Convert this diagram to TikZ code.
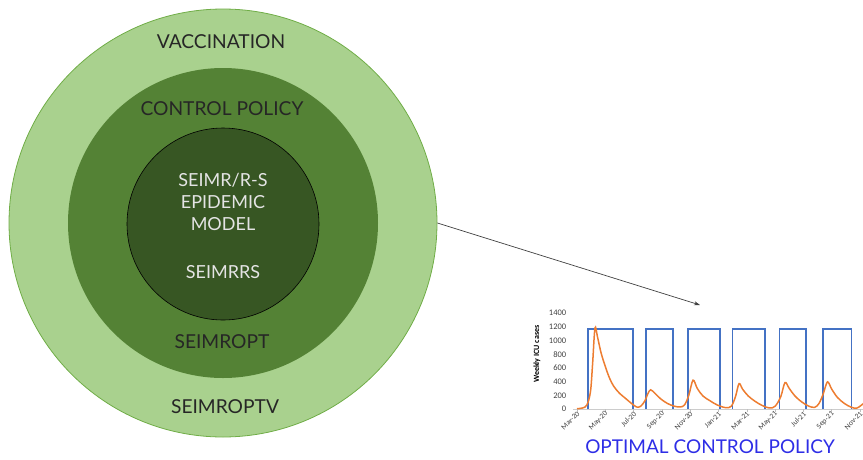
\documentclass[tikz,border=0pt]{standalone}
\usepackage{fontspec}
\setmainfont{Lato}
\newfontfamily\chartfont{Carlito}
\usepackage{xcolor}
\usepackage{tikz}
\usetikzlibrary{arrows.meta, positioning}
\definecolor{C_VAC} {HTML}{A9D18E}
\definecolor{C_VACL}{HTML}{70AD47}
\definecolor{C_CTL} {HTML}{548235}
\definecolor{C_MOD} {HTML}{375623}
\definecolor{C_TXT} {HTML}{262626}
\definecolor{C_MTX} {HTML}{E4E4E4}
\definecolor{C_PUL} {HTML}{4472C4}
\definecolor{C_ICU} {HTML}{ED7D31}
\definecolor{C_OPT} {HTML}{2E2EE6}
\tikzset{
  %% -- nested rings --
  RING/vac/.style={circle, draw=C_VACL, line width=0.8pt, fill=C_VAC,
    minimum size=428pt, inner sep=0pt},
  RING/ctl/.style={circle, fill=C_CTL, minimum size=310pt, inner sep=0pt},
  RING/mod/.style={circle, draw=black, line width=0.6pt, fill=C_MOD,
    minimum size=192pt, inner sep=0pt},
  %% -- ring labels --
  RING/lbl/.style={font=\fontsize{19.2}{23}\selectfont, color=C_TXT,
    inner sep=0pt},
  RING/mlbl/.style={font=\fontsize{18}{22}\selectfont, color=C_MTX,
    inner sep=0pt, align=center},
  %% -- pointer to the chart --
  ARR/ptr/.style={-{Stealth[length=6pt, width=4pt]}, line width=0.7pt,
    color=black!75},
  %% -- chart pieces --
  CH/axis/.style={draw=gray!40, line width=0.6pt},
  CH/tick/.style={draw=gray!50, line width=0.5pt},
  CH/ylbl/.style={font=\chartfont\fontsize{8.5}{9}\selectfont,
    color=black!75, inner sep=0pt, anchor=east},
  CH/xlbl/.style={font=\chartfont\fontsize{7.5}{8}\selectfont,
    color=black!75, inner sep=0pt, anchor=east, rotate=45},
  CH/ctrl/.style={draw=C_PUL, line width=1.5pt},
  CH/icu/.style={draw=C_ICU, line width=1.5pt, smooth, tension=0.55},
  CH/ttl/.style={font=\fontsize{19}{23}\selectfont, color=C_OPT,
    inner sep=0pt},
}

\begin{document}
\begin{tikzpicture}[x=1pt, y=-1pt]
\useasboundingbox (0,0) rectangle (863,459);

%% ━━━━━━━━━━━━━━━━━━━━━━━━━━━━━━━━━━━━━━━━━━━━━━━━━━━━━━━━━━━━━━━
%%  LEFT — nested model rings
%% ━━━━━━━━━━━━━━━━━━━━━━━━━━━━━━━━━━━━━━━━━━━━━━━━━━━━━━━━━━━━━━━
\pgfmathsetmacro{\cx}{223}  %% ring centre x
\pgfmathsetmacro{\cy}{223}  %% ring centre y

\node[RING/vac] (vac) at (\cx,\cy) {};
\node[RING/ctl] (ctl) at (\cx,\cy) {};
\node[RING/mod] (mod) at (\cx,\cy+1) {};

%% Ring titles (top) and model names (bottom)
\node[RING/lbl] (vacT) at (221,42)  {VACCINATION};
\node[RING/lbl] (ctlT) at (222,109) {CONTROL POLICY};
\node[RING/mlbl] (modT) at (223,202)
  {SEIMR/R-S\\[0pt]EPIDEMIC\\[0pt]MODEL};
\node[RING/mlbl] (modN) at (223,272) {SEIMRRS};
\node[RING/lbl] (ctlN) at (222,342) {SEIMROPT};
\node[RING/lbl] (vacN) at (225,407) {SEIMROPTV};

%% ━━━━━━━━━━━━━━━━━━━━━━━━━━━━━━━━━━━━━━━━━━━━━━━━━━━━━━━━━━━━━━━
%%  POINTER
%% ━━━━━━━━━━━━━━━━━━━━━━━━━━━━━━━━━━━━━━━━━━━━━━━━━━━━━━━━━━━━━━━
\coordinate (chartin) at (700,305);
\draw[ARR/ptr] (vac.east) -- (chartin);

%% ━━━━━━━━━━━━━━━━━━━━━━━━━━━━━━━━━━━━━━━━━━━━━━━━━━━━━━━━━━━━━━━
%%  RIGHT — weekly ICU cases under the optimal policy
%% ━━━━━━━━━━━━━━━━━━━━━━━━━━━━━━━━━━━━━━━━━━━━━━━━━━━━━━━━━━━━━━━
\begin{scope}[xshift=577pt, yshift=-409pt, x=14.15pt, y=0.06857pt]

%% Axis, y ticks
\draw[CH/axis] (-0.3,0) -- (20.6,0);
\foreach \v in {0,200,...,1400}
  \node[CH/ylbl] (yt\v) at (-0.75,\v) {\v};
\node[font=\chartfont\bfseries\fontsize{8}{9}\selectfont, rotate=90,
      inner sep=0pt] (ytitle) at (-2.83,800) {Weekly ICU cases};

%% x ticks (every two months)
\foreach \m/\lbl in {0/Mar-20, 2/May-20, 4/Jul-20, 6/Sep-20, 8/Nov-20,
    10/Jan-21, 12/Mar-21, 14/May-21, 16/Jul-21, 18/Sep-21, 20/Nov-21} {
  \draw[CH/tick] (\m,0) -- (\m,-50);
  \node[CH/xlbl] (xt\m) at (\m+0.1,-55) {\lbl};
}

%% Control policy: on / off pulses
\foreach \a/\b in {0.78/3.96, 4.88/6.78, 7.84/10.1,
                   11.0/13.3, 14.3/16.2, 17.4/19.4}
  \draw[CH/ctrl] (\a,0) -- (\a,1170) -- (\b,1170) -- (\b,0);

%% ICU curve
\draw[CH/icu] plot coordinates {
  (0,5) (0.4,15) (0.7,60) (0.95,250) (1.1,650) (1.27,1180) (1.45,1050)
  (1.7,820) (2.0,620) (2.3,450) (2.6,330) (3.0,230) (3.4,160) (3.8,90)
  (4.2,30) (4.5,40) (4.8,120) (5.0,220) (5.2,280) (5.5,230) (5.9,150)
  (6.4,80) (6.9,40) (7.3,30) (7.6,60) (7.9,200) (8.2,420) (8.5,300)
  (8.9,190) (9.4,120) (9.9,60) (10.5,20) (10.9,40) (11.2,180) (11.45,370)
  (11.7,290) (12.1,190) (12.6,110) (13.1,50) (13.6,15) (14.0,40)
  (14.4,180) (14.7,385) (15.0,300) (15.4,190) (15.9,100) (16.4,40)
  (16.8,25) (17.1,80) (17.4,220) (17.7,395) (18.0,290) (18.4,170)
  (18.9,80) (19.4,25) (19.8,15) (20.3,90)};
\end{scope}

%% Chart caption
\node[CH/ttl] (optT) at (710,447) {OPTIMAL CONTROL POLICY};

\end{tikzpicture}
\end{document}
